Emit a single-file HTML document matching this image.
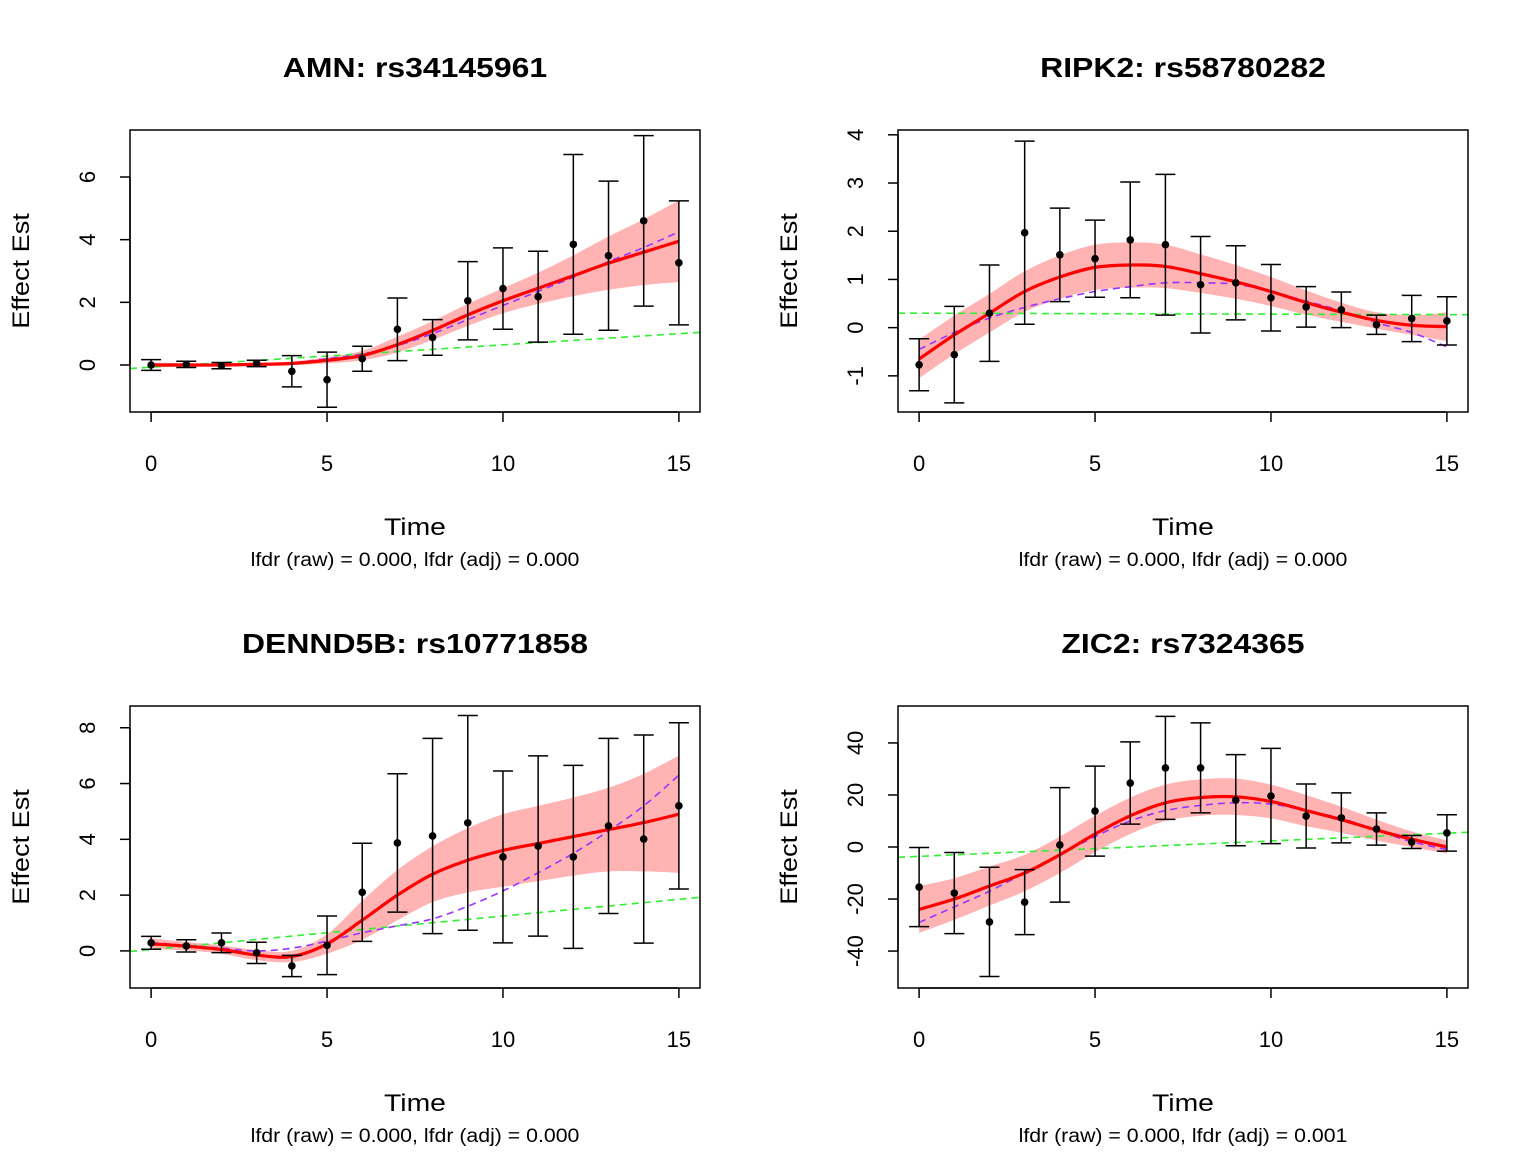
<!DOCTYPE html>
<html><head><meta charset="utf-8"><style>
html,body{margin:0;padding:0;background:#fff;}
svg{display:block;font-family:"Liberation Sans",Arial,sans-serif;}
</style></head><body>
<svg id="chart" width="1536" height="1152" viewBox="0 0 1536 1152"></svg>
<script>
// ---- data ----
const times = [0,1,2,3,4,5,6,7,8,9,10,11,12,13,14,15];
const titles = ["AMN: rs34145961","RIPK2: rs58780282","DENND5B: rs10771858","ZIC2: rs7324365"];
const subtitles = ["lfdr (raw) = 0.000, lfdr (adj) = 0.000","lfdr (raw) = 0.000, lfdr (adj) = 0.000","lfdr (raw) = 0.000, lfdr (adj) = 0.000","lfdr (raw) = 0.000, lfdr (adj) = 0.001"];
const yTicks1 = [0,2,4,6];
const yTicks2 = [-1,0,1,2,3,4];
const yTicks3 = [0,2,4,6,8];
const yTicks4 = [-40,-20,0,20,40];
const xTicks = [0,5,10,15];

const est1 = [0,0.02,-0.02,0.05,-0.2,-0.47,0.2,1.14,0.88,2.05,2.44,2.18,3.85,3.49,4.6,3.26];
const err1 = [0.17,0.1,0.1,0.1,0.5,0.88,0.4,1.0,0.57,1.25,1.3,1.45,2.87,2.38,2.72,1.98];
const fit1 = [0,0,0,0.02,0.05,0.15,0.3,0.65,1.1,1.6,2.05,2.45,2.85,3.25,3.6,3.95];
const band1 = [0.08,0.06,0.05,0.05,0.06,0.1,0.15,0.25,0.3,0.35,0.4,0.5,0.65,0.85,1.05,1.3];
const fpc1 = [0,0,0,0.02,0.07,0.2,0.35,0.62,1.0,1.45,1.9,2.35,2.8,3.3,3.75,4.25];
const lin1 = [-0.07,1.0];

const est2 = [-0.77,-0.56,0.3,1.97,1.51,1.43,1.82,1.72,0.89,0.93,0.62,0.43,0.37,0.06,0.19,0.14];
const err2 = [0.54,1.0,1.0,1.9,0.97,0.8,1.2,1.46,1.0,0.77,0.69,0.42,0.37,0.2,0.48,0.5];
const fit2 = [-0.65,-0.15,0.3,0.75,1.05,1.25,1.3,1.27,1.12,0.95,0.75,0.52,0.32,0.15,0.05,0.02];
const band2 = [0.4,0.4,0.4,0.42,0.45,0.47,0.47,0.45,0.4,0.35,0.3,0.25,0.2,0.17,0.2,0.3];
const fpc2 = [-0.45,-0.1,0.2,0.42,0.6,0.75,0.85,0.93,0.93,0.9,0.75,0.55,0.35,0.1,-0.1,-0.4];
const lin2 = [0.3,0.27];

const est3 = [0.29,0.18,0.29,-0.07,-0.54,0.2,2.1,3.87,4.12,4.59,3.37,3.76,3.37,4.48,4.01,5.2];
const err3 = [0.23,0.22,0.35,0.38,0.38,1.05,1.76,2.48,3.5,3.85,3.08,3.23,3.28,3.14,3.73,2.98];
const fit3 = [0.25,0.17,0.05,-0.15,-0.2,0.25,1.1,2.0,2.75,3.25,3.6,3.85,4.1,4.35,4.6,4.9];
const band3 = [0.2,0.15,0.15,0.18,0.2,0.35,0.7,0.9,1.0,1.15,1.3,1.35,1.4,1.5,1.75,2.1];
const fpc3 = [0.3,0.2,0.1,0,0.1,0.35,0.65,0.9,1.15,1.6,2.15,2.8,3.5,4.3,5.2,6.3];
const lin3 = [0.05,1.85];

const est4 = [-15.4,-17.7,-28.8,-21.2,0.8,13.8,24.6,30.4,30.4,18,19.6,11.9,11.2,6.9,1.9,5.4];
const err4 = [15.2,15.6,21,12.5,22,17.3,15.8,19.8,17.3,17.5,18.3,12.3,9.6,6.2,2.5,7];
const fit4 = [-24,-20,-15,-10,-3,5,12,17,19,19.3,17.5,14,10.5,6.5,3,0];
const band4 = [9,8,7.5,7,7,7,7,7,7,7,6.5,6,5,4,3,2.5];
const fpc4 = [-29,-23,-17,-10,-3,4,10,14,16,17,16.5,14,11,6.5,2,-1];
const lin4 = [-3.6,5.3];

const panels = [
 {ox:0, oy:0, ymin:-1.5, ymax:7.5, yt:yTicks1, est:est1, err:err1, fit:fit1, band:band1, fpc:fpc1, lin:lin1},
 {ox:768, oy:0, ymin:-1.75, ymax:4.1, yt:yTicks2, est:est2, err:err2, fit:fit2, band:band2, fpc:fpc2, lin:lin2},
 {ox:0, oy:576, ymin:-1.33, ymax:8.78, yt:yTicks3, est:est3, err:err3, fit:fit3, band:band3, fpc:fpc3, lin:lin3},
 {ox:768, oy:576, ymin:-54.2, ymax:54.2, yt:yTicks4, est:est4, err:err4, fit:fit4, band:band4, fpc:fpc4, lin:lin4}
];
// ---- drawing ----
const NS = "http://www.w3.org/2000/svg";
const svg = document.getElementById("chart");
function mk(tag, attrs, parent){
  const e = document.createElementNS(NS, tag);
  for (const k in attrs) e.setAttribute(k, attrs[k]);
  parent.appendChild(e);
  return e;
}
function stretch(el, f){
  const w = el.getComputedTextLength();
  el.setAttribute("textLength", (w*f).toFixed(1));
  el.setAttribute("lengthAdjust", "spacingAndGlyphs");
}
function smoothPath(pts){
  let d = "M" + pts[0][0] + "," + pts[0][1];
  for (let i=0;i<pts.length-1;i++){
    const p0 = pts[Math.max(i-1,0)], p1 = pts[i], p2 = pts[i+1], p3 = pts[Math.min(i+2,pts.length-1)];
    const c1 = [p1[0]+(p2[0]-p0[0])/6, p1[1]+(p2[1]-p0[1])/6];
    const c2 = [p2[0]-(p3[0]-p1[0])/6, p2[1]-(p3[1]-p1[1])/6];
    d += " C"+c1[0]+","+c1[1]+" "+c2[0]+","+c2[1]+" "+p2[0]+","+p2[1];
  }
  return d;
}
panels.forEach((p, idx) => {
  const L = p.ox+130, R = p.ox+700, T = p.oy+130, B = p.oy+412;
  const xs = v => L + (v + 0.6) / 16.2 * (R - L);
  const ys = v => B - (v - p.ymin) / (p.ymax - p.ymin) * (B - T);
  const g = mk("g", {}, svg);
  
  
  const cx = (L+R)/2;
  const t = mk("text", {x:cx, y:p.oy+77, "text-anchor":"middle", "font-size":"28", "font-weight":"bold"}, g);
  t.textContent = titles[idx];
  
  
  stretch(t, 1.14);
  const clip = mk("clipPath", {id:"clip"+idx}, g);
  mk("rect", {x:L, y:T, width:R-L, height:B-T}, clip);
  const plot = mk("g", {"clip-path":"url(#clip"+idx+")"}, g);
  const up = times.map((x,i)=>[xs(x), ys(p.fit[i]+p.band[i])]);
  const lo = times.map((x,i)=>[xs(x), ys(p.fit[i]-p.band[i])]).reverse();
  const bandD = smoothPath(up) + " L" + smoothPath(lo).slice(1) + " Z";
  const band = mk("path", {d:bandD, fill:"#ffb3b3", stroke:"none"}, plot);
  
  
  const gl = mk("line", {x1:xs(-0.6), y1:ys(p.lin[0] + (p.lin[0]-p.lin[1])*0.6/15), x2:xs(15.6), y2:ys(p.lin[1] + (p.lin[1]-p.lin[0])*0.6/15), stroke:"#33ee33", "stroke-width":"1.6", "stroke-dasharray":"7,5"}, plot);
  
  
  const pp = mk("path", {d:smoothPath(times.map((x,i)=>[xs(x), ys(p.fpc[i])])), fill:"none", stroke:"#9933ff", "stroke-width":"1.6", "stroke-dasharray":"7,5"}, plot);
  
  
  const rp = mk("path", {d:smoothPath(times.map((x,i)=>[xs(x), ys(p.fit[i])])), fill:"none", stroke:"#ff0000", "stroke-width":"3.2"}, plot);
  
  
  times.forEach((x,i)=>{
    const X = xs(x), y1 = ys(p.est[i]+p.err[i]), y2 = ys(p.est[i]-p.err[i]);
    const eb = mk("path", {d:`M${X},${y1} V${y2} M${X-10},${y1} H${X+10} M${X-10},${y2} H${X+10}`, stroke:"#000", "stroke-width":"1.5", fill:"none"}, g);
    
    
    const c = mk("circle", {cx:X, cy:ys(p.est[i]), r:"3.8", fill:"#000"}, g);
    
    
  });
  const box = mk("rect", {x:L, y:T, width:R-L, height:B-T, fill:"none", stroke:"#000", "stroke-width":"1.5"}, g);
  
  
  const xa = mk("g", {}, g);
  
  
  mk("line", {x1:xs(xTicks[0]), y1:B, x2:xs(xTicks[xTicks.length-1]), y2:B, stroke:"#000", "stroke-width":"1.5"}, xa);
  xTicks.forEach(v=>{
    mk("line", {x1:xs(v), y1:B, x2:xs(v), y2:B+10, stroke:"#000", "stroke-width":"1.5"}, xa);
    const tt = mk("text", {x:xs(v), y:B+59, "text-anchor":"middle", "font-size":"22"}, xa);
    tt.textContent = v;
  });
  const ya = mk("g", {}, g);
  
  
  mk("line", {x1:L, y1:ys(p.yt[0]), x2:L, y2:ys(p.yt[p.yt.length-1]), stroke:"#000", "stroke-width":"1.5"}, ya);
  p.yt.forEach(v=>{
    mk("line", {x1:L-10, y1:ys(v), x2:L, y2:ys(v), stroke:"#000", "stroke-width":"1.5"}, ya);
    const tt = mk("text", {x:0, y:0, "text-anchor":"middle", "font-size":"22", transform:`translate(${L-35},${ys(v)}) rotate(-90)`}, ya);
    tt.textContent = v;
  });
  const xl = mk("text", {x:cx, y:p.oy+535, "text-anchor":"middle", "font-size":"24"}, g);
  xl.textContent = "Time";
  
  
  stretch(xl, 1.18);
  const yl = mk("text", {x:0, y:0, "text-anchor":"middle", "font-size":"24", transform:`translate(${p.ox+29},${(T+B)/2}) rotate(-90)`}, g);
  yl.textContent = "Effect Est";
  
  
  stretch(yl, 1.13);
  const st = mk("text", {x:cx, y:p.oy+566, "text-anchor":"middle", "font-size":"19"}, g);
  st.textContent = subtitles[idx];
  
  
  stretch(st, 1.12);
});
</script>
</body></html>
